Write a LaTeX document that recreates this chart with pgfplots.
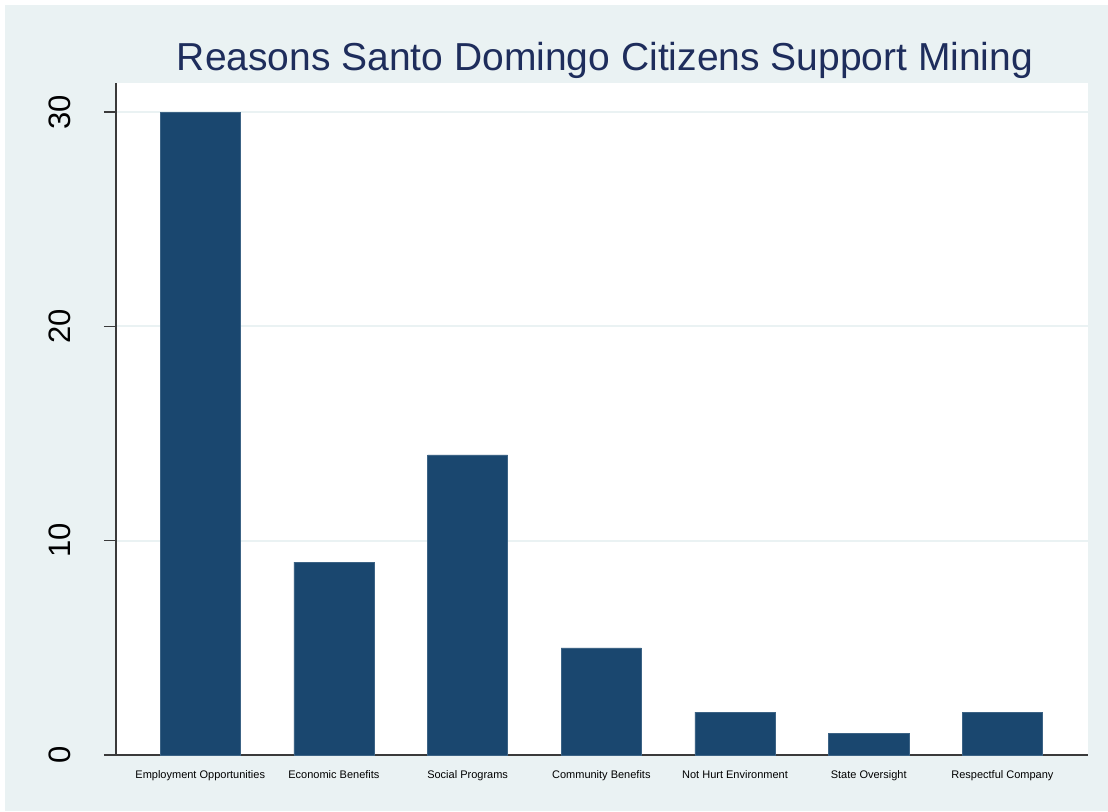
\documentclass[border=0pt]{standalone}
\usepackage{fontspec}
\setmainfont{Liberation Sans}
\usepackage{pgfplots}
\pgfplotsset{compat=1.18}
\definecolor{bgc}{HTML}{EAF2F3}
\definecolor{barc}{HTML}{1A476F}
\definecolor{titlec}{HTML}{1E2D5C}
\definecolor{axc}{HTML}{3A3A3A}
\begin{document}
\begin{tikzpicture}[x=1pt,y=1pt]
\path[use as bounding box, fill=white] (0,0) rectangle (1108,811);
\fill[bgc] (5,0) rectangle (1108,806);
\node[anchor=base, text=titlec, font=\fontsize{39}{39}\selectfont, inner sep=0pt] at (605,740) {Reasons Santo Domingo Citizens Support Mining};
\begin{axis}[
  at={(116pt,56pt)}, anchor=south west, scale only axis,
  width=972pt, height=672pt,
  xmin=-0.63, xmax=6.64, ymin=0, ymax=31.36,
  axis background/.style={fill=white},
  axis x line=bottom, axis y line=left,
  axis line style={-, draw=axc, line width=1.5pt},
  ymajorgrids, grid style={bgc, line width=2pt},
  ytick={0,10,20,30},
  xtick={0,1,2,3,4,5,6},
  xticklabels={Employment Opportunities, Economic Benefits, Social Programs, Community Benefits, Not Hurt Environment, State Oversight, Respectful Company},
  tick align=outside,
  major tick length=12pt,
  ytick style={draw=axc, line width=1.5pt},
  xtick style={draw=none},
  /pgf/number format/assume math mode=true,
  yticklabel style={rotate=90, anchor=south, inner sep=0pt, font=\fontsize{31}{31}\selectfont},
  yticklabel shift=33pt,
  xticklabel style={anchor=north, inner sep=0pt, font=\fontsize{11}{11}\selectfont},
  xticklabel shift=3pt,
  ybar, bar width=0.6,
]
\addplot[fill=barc, draw=barc!85!white, line width=0.5pt] coordinates {(0,30) (1,9) (2,14) (3,5) (4,2) (5,1) (6,2)};
\end{axis}
\end{tikzpicture}
\end{document}
